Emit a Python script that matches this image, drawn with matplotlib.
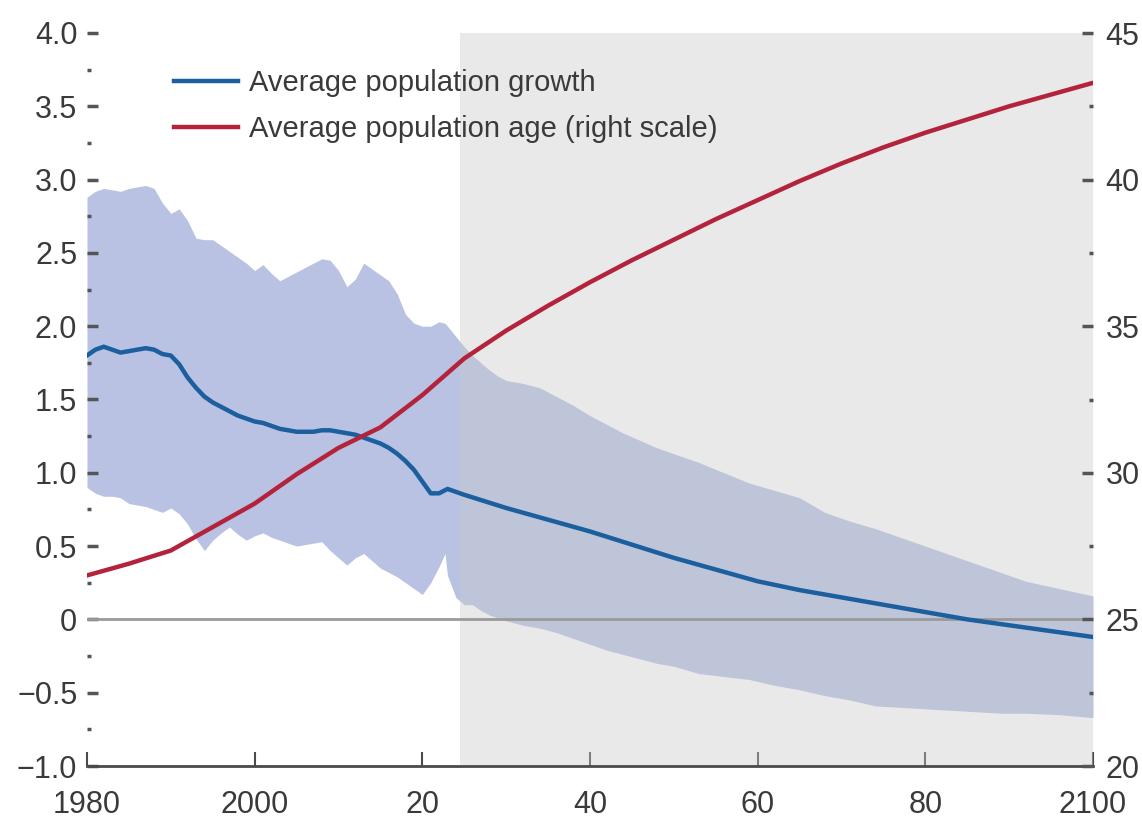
import numpy as np
import matplotlib
matplotlib.use("Agg")
import matplotlib.pyplot as plt
from matplotlib.lines import Line2D
from matplotlib.ticker import MultipleLocator

plt.rcParams['font.family'] = ['Liberation Sans Narrow', 'Liberation Sans', 'DejaVu Sans']

# average population growth (left scale, percent)
growth_years = list(range(1980, 2026)) + list(range(2030, 2101, 5))
growth = [1.80, 1.84, 1.86, 1.84, 1.82, 1.83, 1.84, 1.85, 1.84, 1.81,
          1.80, 1.74, 1.65, 1.58, 1.52, 1.48, 1.45, 1.42, 1.39, 1.37,
          1.35, 1.34, 1.32, 1.30, 1.29, 1.28, 1.28, 1.28, 1.29, 1.29,
          1.28, 1.27, 1.26, 1.24, 1.22, 1.20, 1.17, 1.13, 1.08, 1.02,
          0.94, 0.86, 0.86, 0.89, 0.87, 0.85,
          0.76, 0.68, 0.60, 0.51, 0.42, 0.34, 0.26, 0.20, 0.15, 0.10,
          0.05, 0.00, -0.04, -0.08, -0.12]

# spread of population growth across countries
band_years = (list(range(1980, 2023)) + [2022.7] + list(range(2023, 2031))
              + [2032, 2034, 2036, 2038, 2040, 2042, 2044, 2046, 2048, 2050,
                 2053, 2056, 2059, 2062, 2065, 2068, 2071, 2074, 2077, 2080,
                 2083, 2086, 2089, 2092, 2096, 2100])
band_upper = [2.88, 2.92, 2.94, 2.93, 2.92, 2.94, 2.95, 2.96, 2.94, 2.84,
              2.77, 2.80, 2.72, 2.60, 2.59, 2.59, 2.55, 2.51, 2.47, 2.43,
              2.38, 2.42, 2.36, 2.31, 2.34, 2.37, 2.40, 2.43, 2.46, 2.45,
              2.38, 2.27, 2.32, 2.43, 2.39, 2.35, 2.31, 2.22, 2.08, 2.02,
              2.00, 2.00, 2.03, 2.02, 2.00, 1.93, 1.86, 1.80, 1.75, 1.70,
              1.66, 1.63,
              1.61, 1.58, 1.52, 1.46, 1.39, 1.33, 1.27, 1.22, 1.17, 1.13,
              1.07, 1.00, 0.93, 0.88, 0.83, 0.73, 0.67, 0.62, 0.56, 0.50,
              0.44, 0.38, 0.32, 0.26, 0.21, 0.16]
band_lower = [0.90, 0.86, 0.84, 0.84, 0.83, 0.79, 0.78, 0.77, 0.75, 0.73,
              0.76, 0.72, 0.65, 0.55, 0.47, 0.54, 0.59, 0.63, 0.58, 0.54,
              0.57, 0.59, 0.56, 0.54, 0.52, 0.50, 0.51, 0.52, 0.53, 0.47,
              0.42, 0.37, 0.42, 0.45, 0.40, 0.35, 0.32, 0.29, 0.25, 0.21,
              0.17, 0.25, 0.36, 0.45, 0.30, 0.15, 0.10, 0.10, 0.06, 0.03,
              0.01, -0.01,
              -0.04, -0.06, -0.09, -0.13, -0.17, -0.21, -0.24, -0.27, -0.30, -0.32,
              -0.37, -0.39, -0.41, -0.45, -0.48, -0.52, -0.55, -0.59, -0.60, -0.61,
              -0.62, -0.63, -0.64, -0.64, -0.65, -0.67]

# average population age (right scale, years)
age_years = list(range(1980, 2101, 5))
age = [26.5, 26.9, 27.35, 28.15, 28.95, 29.95, 30.85, 31.55, 32.65, 33.9,
       34.85, 35.7, 36.5, 37.25, 37.95, 38.65, 39.3, 39.95, 40.55, 41.1,
       41.6, 42.05, 42.5, 42.9, 43.3]

projection_start = 2024.5

x_ticks = [1980, 2000, 2020, 2040, 2060, 2080, 2100]
x_labels = ["1980", "2000", "20", "40", "60", "80", "2100"]
left_ticks = [-1.0, -0.5, 0, 0.5, 1.0, 1.5, 2.0, 2.5, 3.0, 3.5, 4.0]
left_labels = ["\u22121.0", "\u22120.5", "0", "0.5", "1.0", "1.5", "2.0",
               "2.5", "3.0", "3.5", "4.0"]
right_ticks = [20, 25, 30, 35, 40, 45]

blue = "#1c5f9e"
red = "#b3243c"
band_color = "#b9c2e2"
text_color = "#3a3a3a"
tick_color = "#555555"
fs = 22

fig = plt.figure(figsize=(11.42, 8.22), dpi=100)
ax = fig.add_axes([87 / 1142, 1 - 766 / 822, 1006 / 1142, 733 / 822])
ax2 = ax.twinx()

ax.fill_between(band_years, band_lower, band_upper, color=band_color,
                linewidth=0, zorder=1)
ax.axvspan(projection_start, 2100, color="#c8caca", alpha=0.4,
           linewidth=0, zorder=2)
ax.axhline(0, color="#9a9a9a", linewidth=2, zorder=3)
ax.plot(growth_years, growth, color=blue, linewidth=3.2, zorder=4)
ax2.plot(age_years, age, color=red, linewidth=3.2, zorder=4)

ax.set_xlim(1980, 2100)
ax.set_ylim(-1.0, 4.0)
ax2.set_ylim(20, 45)

ax.set_xticks(x_ticks)
ax.set_xticklabels(x_labels)
ax.set_yticks(left_ticks)
ax.set_yticklabels(left_labels)
ax.yaxis.set_minor_locator(MultipleLocator(0.25))
ax2.set_yticks(right_ticks)
ax2.yaxis.set_minor_locator(MultipleLocator(2.5))

for a in (ax, ax2):
    for side in ("top", "left", "right", "bottom"):
        a.spines[side].set_visible(False)
ax.spines["bottom"].set_visible(True)
ax.spines["bottom"].set_color("#4a4a4a")
ax.spines["bottom"].set_linewidth(2)
ax.spines["bottom"].set_zorder(5)

ax.tick_params(axis="x", direction="in", length=10, width=1.5,
               color="#4a4a4a", labelsize=fs, labelcolor=text_color, pad=17)
ax.tick_params(axis="y", which="major", direction="in", length=8, width=2.5,
               color=tick_color, labelsize=fs, labelcolor=text_color, pad=7)
ax.tick_params(axis="y", which="minor", direction="in", length=3, width=2.5,
               color=tick_color)
ax2.tick_params(axis="y", which="major", direction="in", length=8, width=2.5,
                color=tick_color, labelsize=fs, labelcolor=text_color, pad=9)
ax2.tick_params(axis="y", which="minor", direction="in", length=3, width=2.5,
                color=tick_color)

handles = [Line2D([], [], color=blue, linewidth=3.2),
           Line2D([], [], color=red, linewidth=3.2)]
ax2.legend(handles, ["Average population growth",
                     "Average population age (right scale)"],
           loc="upper left", bbox_to_anchor=(0.075, 0.967), frameon=False,
           fontsize=21, handlelength=2.2, handletextpad=0.38,
           labelspacing=0.62, labelcolor=text_color, borderaxespad=0)

fig.savefig("out.png", dpi=100)
